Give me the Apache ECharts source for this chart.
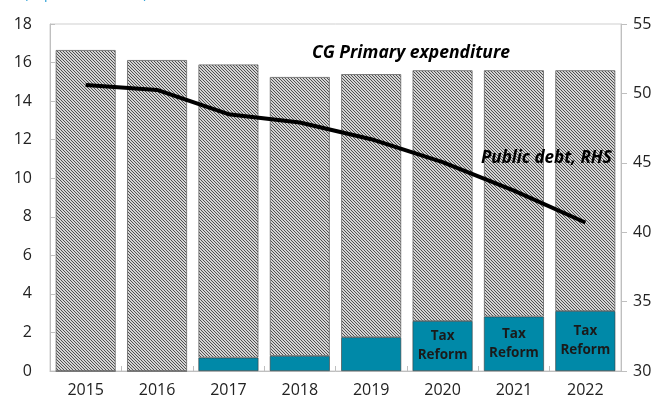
<!DOCTYPE html>
<html>
<head>
<meta charset="utf-8">
<script src="https://cdn.jsdelivr.net/npm/echarts@6/dist/echarts.min.js"></script>
<style>
  html, body { margin: 0; padding: 0; background: #fff; }
  #chart { width: 662px; height: 404px; }
</style>
</head>
<body>
<div id="chart"></div>
<script>
const years = ['2015', '2016', '2017', '2018', '2019', '2020', '2021', '2022'];
const taxReform = [0, 0, 0.69, 0.78, 1.75, 2.59, 2.82, 3.11];
const primaryTotal = [16.65, 16.13, 15.9, 15.25, 15.4, 15.6, 15.6, 15.6];
const publicDebt = [50.6, 50.25, 48.5, 47.9, 46.7, 45.05, 43.0, 40.7];
const leftTicks = { min: 0, max: 18, interval: 2 };
const rightTicks = { min: 30, max: 55, interval: 5 };

// hatched part = total minus the tax reform slice
const primaryRest = primaryTotal.map((v, i) => +(v - taxReform[i]).toFixed(2));

// fine diagonal hatch, 3px period
const tile = document.createElement('canvas');
tile.width = 3;
tile.height = 3;
const ctx = tile.getContext('2d');
ctx.fillStyle = '#d4d4d4';
ctx.fillRect(0, 0, 3, 3);
ctx.fillStyle = '#505050';
for (let i = 0; i < 3; i++) ctx.fillRect(i, i, 1, 1);

const font = '"Open Sans", "Noto Sans", sans-serif';

const myChart = echarts.init(document.getElementById('chart'));
const option = {
    animation: false,
    grid: {
        left: 50,
        right: 41,
        top: 24,
        bottom: 33,
        show: true,
        borderColor: '#cfcfcf',
        borderWidth: 1
    },
    graphic: [
        {
            type: 'text',
            left: 24,
            top: -13,
            z: 100,
            style: {
                text: '(in percent of GDP)',
                fill: '#2a9fd6',
                font: '14px ' + font
            }
        },
        {
            type: 'text',
            left: 312,
            top: 44,
            z: 100,
            style: {
                text: 'CG Primary expenditure',
                fill: '#000',
                font: 'italic bold 17.5px ' + font
            }
        },
        {
            type: 'text',
            left: 481,
            top: 150,
            z: 100,
            style: {
                text: 'Public debt, RHS',
                fill: '#000',
                font: 'italic bold 17px ' + font
            }
        }
    ],
    xAxis: {
        type: 'category',
        data: years,
        axisLine: { lineStyle: { color: '#bfbfbf' } },
        axisTick: { show: true, inside: true, length: 5, lineStyle: { color: '#bfbfbf' } },
        axisLabel: { color: '#222', fontSize: 16, fontFamily: font, margin: 11 }
    },
    yAxis: [
        {
            type: 'value',
            min: leftTicks.min,
            max: leftTicks.max,
            interval: leftTicks.interval,
            splitLine: { show: false },
            axisLine: { show: true, lineStyle: { color: '#bfbfbf' } },
            axisTick: { show: true, inside: true, length: 5, lineStyle: { color: '#bfbfbf' } },
            axisLabel: { color: '#222', fontSize: 16, fontFamily: font, margin: 18 }
        },
        {
            type: 'value',
            position: 'right',
            min: rightTicks.min,
            max: rightTicks.max,
            interval: rightTicks.interval,
            splitLine: { show: false },
            axisLine: { show: true, lineStyle: { color: '#bfbfbf' } },
            axisTick: { show: true, length: 6, lineStyle: { color: '#bfbfbf' } },
            axisLabel: { color: '#222', fontSize: 16, fontFamily: font, margin: 12 }
        }
    ],
    series: [
        {
            name: 'Tax Reform',
            type: 'bar',
            stack: 'exp',
            barCategoryGap: '16%',
            data: taxReform,
            itemStyle: { color: '#0089a8', borderColor: '#3a3a3a', borderWidth: 0.6 },
            label: {
                show: true,
                position: 'inside',
                color: '#1a1a1a',
                fontWeight: 'bold',
                fontSize: 13.5,
                lineHeight: 19,
                fontFamily: font,
                formatter: p => (p.value >= 2.5 ? 'Tax\nReform' : '')
            }
        },
        {
            name: 'CG Primary expenditure',
            type: 'bar',
            stack: 'exp',
            data: primaryRest,
            itemStyle: {
                color: { image: tile, repeat: 'repeat' },
                borderColor: '#666',
                borderWidth: 0.8
            }
        },
        {
            name: 'Public debt',
            type: 'line',
            yAxisIndex: 1,
            data: publicDebt,
            symbol: 'none',
            lineStyle: { color: '#000', width: 4 },
            z: 5
        }
    ]
};
myChart.setOption(option);
</script>
</body>
</html>
